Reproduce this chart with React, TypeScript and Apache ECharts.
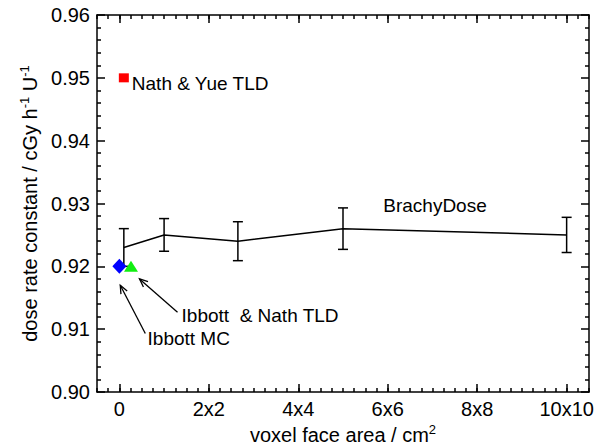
import React, { useEffect, useRef } from 'react';
import * as echarts from 'echarts';

// BrachyDose: voxel side (cm) vs dose rate constant
const sides = [0.1, 1, 2.65, 5, 10];
const brachyDose = [0.923, 0.925, 0.924, 0.926, 0.925];
const brachyErr = [0.003, 0.0026, 0.0031, 0.0033, 0.0028];

// Reference points
const nathYue = [[0.1, 0.95]];
const ibbottMC = [[0, 0.92]];
const ibbottNath = [[0.26, 0.92]];

// Tick labels
const xTickValues = [0, 2, 4, 6, 8, 10];
const xTickLabels = ['0', '2x2', '4x4', '6x6', '8x8', '10x10'];

// Annotations (data coordinates)
const noteTexts = ['BrachyDose', 'Ibbott  & Nath TLD', 'Ibbott MC'];
const noteX = [5.9, 1.39, 0.63];
const noteY = [0.9297, 0.9122, 0.9085];
const arrowFrom = [[0.58, 0.9093], [1.3, 0.9127]];
const arrowTo = [[0.02, 0.917], [0.45, 0.918]];

const FONT = 'Liberation Sans, Arial, sans-serif';
const BLACK = '#000';
const TICK_FS = 20;
const TITLE_FS = 20;
const NOTE_FS = 19;

export default function App() {
  const ref = useRef<HTMLDivElement>(null);
  useEffect(() => {
    document.body.style.margin = '0';
    if (!ref.current) return;
    const chart = echarts.init(ref.current, null, { renderer: 'svg' });
    const lineStyle = { color: BLACK, width: 1.5 };
    const baseX = {
      type: 'value',
      min: -0.5,
      max: 10.5,
      splitLine: { show: false },
    };
    const minorX = (pos: string) => ({
      ...baseX,
      position: pos,
      interval: 0.25,
      axisLine: { show: true, onZero: false, lineStyle },
      axisTick: { show: true, inside: true, length: 4, lineStyle },
      axisLabel: { show: false },
    });
    const majorX = (pos: string, labels: boolean) => ({
      ...baseX,
      position: pos,
      axisLine: { show: false, onZero: false },
      axisTick: { show: true, inside: true, length: 8, lineStyle, customValues: xTickValues },
      axisLabel: {
        show: labels,
        customValues: xTickValues,
        formatter: (v: number) => xTickLabels[xTickValues.indexOf(v)] ?? '',
        fontSize: TICK_FS,
        fontFamily: FONT,
        color: BLACK,
        margin: 7,
      },
    });
    const yAxisBase = (pos: string, labels: boolean) => ({
      type: 'value',
      position: pos,
      min: 0.9,
      max: 0.96,
      interval: 0.01,
      splitLine: { show: false },
      axisLine: { show: true, onZero: false, lineStyle },
      axisTick: { show: true, inside: true, length: 8, lineStyle },
      minorTick: { show: true, splitNumber: 5, length: 4, lineStyle },
      axisLabel: {
        show: labels,
        formatter: (v: number) => v.toFixed(2),
        fontSize: TICK_FS,
        fontFamily: FONT,
        color: BLACK,
        margin: 7,
      },
    });
    const titleStyle = {
      fontSize: TITLE_FS,
      fontFamily: FONT,
      color: BLACK,
      rich: {
        a: { fontSize: TITLE_FS, fontFamily: FONT, color: BLACK, lineHeight: 24 },
        s: { fontSize: 13, fontFamily: FONT, color: BLACK, verticalAlign: 'top', lineHeight: 24 },
      },
    };

    const xMain: any = minorX('bottom');
    xMain.name = '{a|voxel face area / cm}{s|2}';
    xMain.nameLocation = 'middle';
    xMain.nameGap = 31;
    xMain.nameTextStyle = titleStyle;
    const yMain: any = yAxisBase('left', true);
    yMain.name = '{a|dose rate constant / cGy h}{s|-1}{a| U}{s|-1}';
    yMain.nameLocation = 'middle';
    yMain.nameGap = 52;
    yMain.nameTextStyle = titleStyle;

    const option: any = {
      animation: false,
      backgroundColor: '#fff',
      grid: { left: 97, right: 14, top: 15, bottom: 55, containLabel: false, outerBoundsMode: 'none' },
      xAxis: [xMain, majorX('bottom', true), minorX('top'), majorX('top', false)],
      yAxis: [yMain, yAxisBase('right', false)],
      series: [
        {
          type: 'line',
          data: sides.map((s, i) => [s, brachyDose[i]]),
          showSymbol: false,
          symbol: 'none',
          lineStyle: { color: BLACK, width: 1.5 },
          z: 3,
        },
        {
          type: 'custom',
          data: sides.map((s, i) => [s, brachyDose[i] - brachyErr[i], brachyDose[i] + brachyErr[i]]),
          encode: { x: 0, y: [1, 2] },
          renderItem: (_p: any, api: any) => {
            const x = api.value(0);
            const top = api.coord([x, api.value(2)]);
            const bot = api.coord([x, api.value(1)]);
            const hw = 5;
            const st = { stroke: BLACK, lineWidth: 1.5 };
            return {
              type: 'group',
              children: [
                { type: 'line', shape: { x1: top[0], y1: top[1], x2: bot[0], y2: bot[1] }, style: st },
                { type: 'line', shape: { x1: top[0] - hw, y1: top[1], x2: top[0] + hw, y2: top[1] }, style: st },
                { type: 'line', shape: { x1: bot[0] - hw, y1: bot[1], x2: bot[0] + hw, y2: bot[1] }, style: st },
              ],
            };
          },
          z: 3,
        },
        {
          type: 'scatter',
          data: nathYue,
          symbol: 'rect',
          symbolSize: [10, 9],
          itemStyle: { color: '#ff0000', opacity: 1 },
          label: {
            show: true,
            position: 'right',
            distance: 3,
            formatter: 'Nath & Yue TLD',
            fontSize: NOTE_FS,
            fontFamily: FONT,
            color: BLACK,
            offset: [0, 6],
          },
          z: 4,
        },
        {
          type: 'scatter',
          data: ibbottMC,
          symbol: 'diamond',
          symbolSize: [14, 15],
          itemStyle: { color: '#0000ff', opacity: 1 },
          z: 5,
        },
        {
          type: 'scatter',
          data: ibbottNath,
          symbol: 'triangle',
          symbolSize: [14, 11],
          itemStyle: { color: '#11ee11', opacity: 1 },
          z: 4,
        },
        {
          type: 'custom',
          data: arrowFrom.map((f, i) => [f[0], f[1], arrowTo[i][0], arrowTo[i][1]]),
          encode: { x: [0, 2], y: [1, 3] },
          renderItem: (_p: any, api: any) => {
            const p0 = api.coord([api.value(0), api.value(1)]);
            const p1 = api.coord([api.value(2), api.value(3)]);
            const ang = Math.atan2(p0[1] - p1[1], p0[0] - p1[0]);
            const L = 9;
            const da = 0.4;
            const h1 = [p1[0] + L * Math.cos(ang + da), p1[1] + L * Math.sin(ang + da)];
            const h2 = [p1[0] + L * Math.cos(ang - da), p1[1] + L * Math.sin(ang - da)];
            const st = { stroke: BLACK, lineWidth: 1.3, fill: 'none' };
            return {
              type: 'group',
              children: [
                { type: 'line', shape: { x1: p0[0], y1: p0[1], x2: p1[0], y2: p1[1] }, style: st },
                { type: 'polyline', shape: { points: [h1, p1, h2] }, style: st },
              ],
            };
          },
          z: 3,
        },
        {
          type: 'custom',
          data: noteTexts.map((_t, i) => [noteX[i], noteY[i], i]),
          encode: { x: 0, y: 1 },
          renderItem: (_p: any, api: any) => {
            const p = api.coord([api.value(0), api.value(1)]);
            return {
              type: 'text',
              x: p[0],
              y: p[1],
              style: {
                text: noteTexts[api.value(2)],
                fontSize: NOTE_FS,
                fontFamily: FONT,
                fill: BLACK,
                align: 'left',
                verticalAlign: 'middle',
              },
            };
          },
          z: 4,
        },
      ],
    };
    chart.setOption(option);
    return () => chart.dispose();
  }, []);
  return <div ref={ref} style={{ width: 603, height: 447 }} />;
}
